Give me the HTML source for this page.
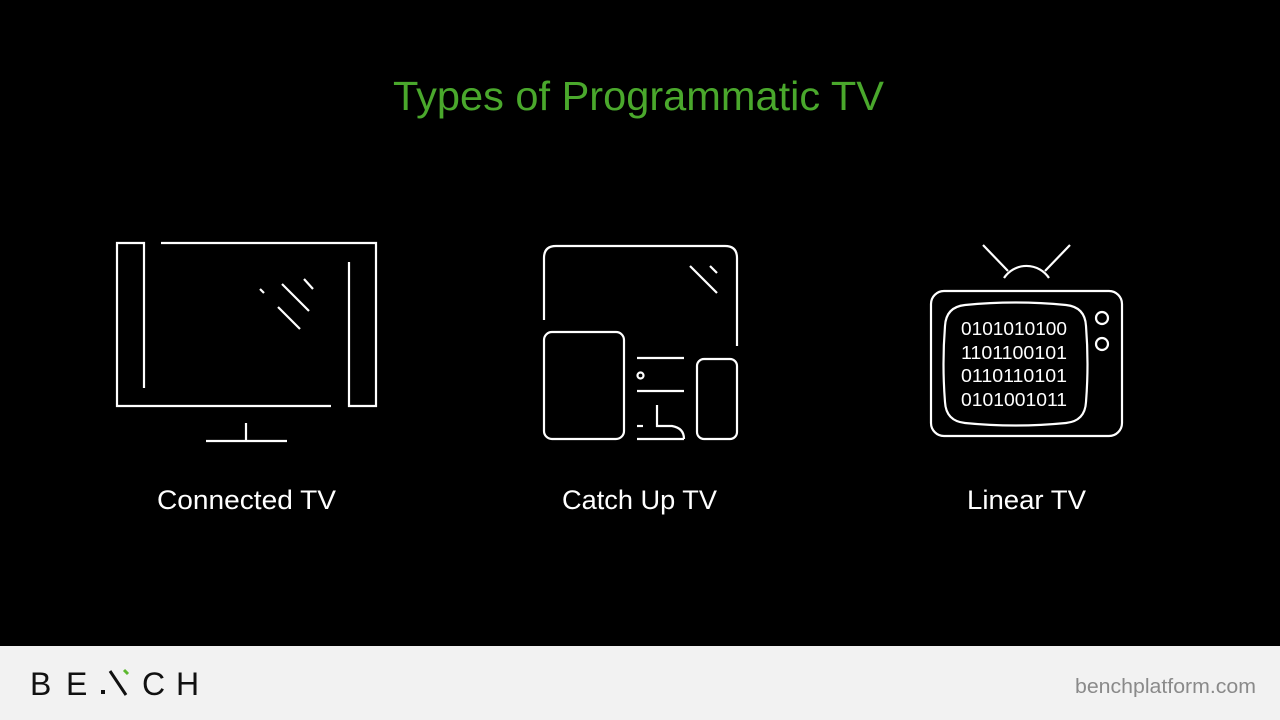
<!DOCTYPE html>
<html><head><meta charset="utf-8"><style>
html,body{margin:0;padding:0;background:#000;width:1280px;height:720px;overflow:hidden}
svg{display:block}
</style></head><body>
<svg width="1280" height="720" viewBox="0 0 1280 720" xmlns="http://www.w3.org/2000/svg">
<rect x="0" y="0" width="1280" height="646" fill="#000"/>
<text x="393" y="110" font-family="Liberation Sans, sans-serif" font-size="41" fill="#4aa82c" textLength="491" lengthAdjust="spacingAndGlyphs">Types of Programmatic TV</text>

<g stroke="#fff" stroke-width="2.2" fill="none" stroke-linecap="butt">
<polyline points="161,243 376,243 376,406 349,406 349,262"/>
<polyline points="331,406 117,406 117,243 144,243 144,388"/>
<line x1="260" y1="289" x2="264" y2="293"/>
<line x1="282" y1="284" x2="309" y2="311"/>
<line x1="278" y1="307" x2="300" y2="329"/>
<line x1="304" y1="279" x2="313" y2="289"/>
<line x1="246" y1="423" x2="246" y2="441"/>
<line x1="206" y1="441" x2="287" y2="441"/>

<path d="M544,320 V258 Q544,246 556,246 H725 Q737,246 737,258 V346"/>
<line x1="690" y1="266" x2="717" y2="293"/>
<line x1="710" y1="266" x2="717" y2="273"/>
<rect x="544" y="332" width="80" height="107" rx="8"/>
<rect x="697" y="359" width="40" height="80" rx="7"/>
<line x1="637" y1="358" x2="684" y2="358"/>
<line x1="637" y1="391" x2="684" y2="391"/>
<circle cx="640.5" cy="375.5" r="3"/>
<line x1="637" y1="426" x2="643" y2="426"/>
<path d="M657,405 V426 H672 Q684,428 684,439"/>
<line x1="637" y1="439" x2="684" y2="439"/>

<rect x="931" y="291" width="191" height="145" rx="13"/>
<path d="M965,305 Q1015,300 1066,305 Q1085,307 1086,326 Q1089,364 1086,402 Q1085,421 1066,423 Q1015,428 965,423 Q946,421 945,402 Q942,364 945,326 Q946,307 965,305 Z"/>
<circle cx="1102" cy="318" r="6"/>
<circle cx="1102" cy="344" r="6"/>
<line x1="983" y1="245" x2="1008" y2="271"/>
<line x1="1070" y1="245" x2="1045" y2="271"/>
<path d="M1004,278 A27,27 0 0 1 1049,278"/>
</g>
<g font-family="Liberation Sans, sans-serif" font-size="18" fill="#fff">
<text x="961" y="335" textLength="106" lengthAdjust="spacingAndGlyphs">0101010100</text>
<text x="961" y="359" textLength="106" lengthAdjust="spacingAndGlyphs">1101100101</text>
<text x="961" y="382" textLength="106" lengthAdjust="spacingAndGlyphs">0110110101</text>
<text x="961" y="406" textLength="106" lengthAdjust="spacingAndGlyphs">0101001011</text>
</g>

<g font-family="Liberation Sans, sans-serif" font-size="27" fill="#fff">
<text x="157" y="509" textLength="179" lengthAdjust="spacingAndGlyphs">Connected TV</text>
<text x="562" y="509" textLength="155" lengthAdjust="spacingAndGlyphs">Catch Up TV</text>
<text x="967" y="509" textLength="119" lengthAdjust="spacingAndGlyphs">Linear TV</text>
</g>

<rect x="0" y="646" width="1280" height="74" fill="#f2f2f2"/>
<g font-family="Liberation Sans, sans-serif" font-size="32" fill="#111">
<text x="30" y="695">B</text>
<text x="66" y="695">E</text>
<text x="142" y="695">C</text>
<text x="176" y="695">H</text>
</g>
<rect x="101" y="690" width="4" height="4" fill="#111"/>
<line x1="110" y1="671" x2="126" y2="695" stroke="#111" stroke-width="3"/>
<line x1="124" y1="670" x2="128" y2="674" stroke="#5cb82e" stroke-width="3"/>
<text x="1075" y="693" font-family="Liberation Sans, sans-serif" font-size="20" fill="#8a8a8a" textLength="181" lengthAdjust="spacingAndGlyphs">benchplatform.com</text>
</svg>
</body></html>
